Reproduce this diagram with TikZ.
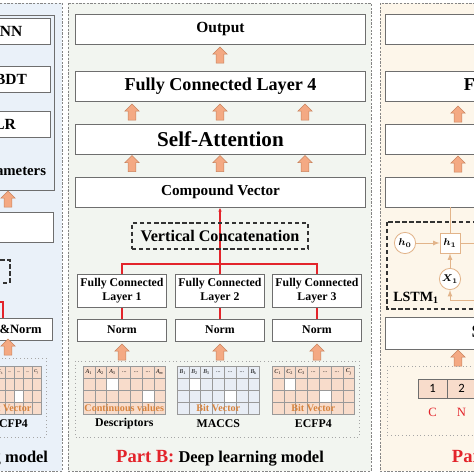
\documentclass[tikz,border=0pt]{standalone}
\usepackage{amsmath,amssymb}
\usepackage{fontspec}
\setmainfont{Liberation Serif}
\newfontfamily\tokfont{Carlito}
\usepackage{xcolor}
\usepackage{tikz}
\usetikzlibrary{arrows.meta}
\usetikzlibrary{arrows,positioning,shapes,shapes.arrows,calc}

\definecolor{panelA}{HTML}{EAF1F9}
\definecolor{panelB}{HTML}{F2F5F0}
\definecolor{panelC}{HTML}{FDF6EA}
\definecolor{panelline}{HTML}{858585}
\definecolor{boxline}{HTML}{6E6E6E}
\definecolor{arrowfill}{HTML}{F4A983}
\definecolor{arrowline}{HTML}{C9825C}
\definecolor{redline}{HTML}{E3242B}
\definecolor{peach}{HTML}{F8DCCB}
\definecolor{bluegrid}{HTML}{E8EDF5}
\definecolor{orangetext}{HTML}{D7843F}
\definecolor{thinline}{HTML}{E2B48A}

\tikzset{
	>=latex,
	panel/.style={draw=panelline, line width=0.7pt, dash pattern=on 1.6pt off 1pt},
	layer/.style={
			draw=boxline,
			fill=white,
			line width=0.7pt,
			inner sep=0pt,
			minimum width=7.225cm,
			minimum height=0.75cm,
		},
	layerA/.style={layer, minimum width=2.25cm, minimum height=0.65cm,
			font=\fontsize{11}{13}\selectfont\bfseries},
	smalllayer/.style={layer, minimum width=2.2cm, minimum height=0.55cm, align=center,
			font=\fontsize{8.4}{9.6}\selectfont\bfseries},
	dashbox/.style={draw=black!80, line width=0.8pt, dash pattern=on 3pt off 2pt, inner sep=0pt},
	dotbox/.style={draw=black!35, line width=0.6pt, dotted},
	uparrow/.style={
			single arrow,
			shape border rotate=90,
			draw=arrowline,
			fill=arrowfill,
			line width=0.4pt,
			inner sep=2.6pt,
			minimum height=0.4cm,
			minimum width=0.33cm,
			single arrow head extend=2.3pt,
		},
	redwire/.style={draw=redline, line width=0.9pt},
	cell/.style={draw=black!40, line width=0.4pt},
	celllbl/.style={inner sep=0pt},
	bitlbl/.style={text=orangetext, font=\fontsize{7.2}{8}\selectfont\bfseries, inner sep=0pt},
	caplbl/.style={font=\fontsize{8.4}{9.6}\selectfont\bfseries, inner sep=0pt},
	hcirc/.style={circle, draw=thinline, fill=white, line width=0.6pt, minimum size=0.53cm, inner sep=0pt,
			font=\fontsize{7}{8}\selectfont},
	hsq/.style={rectangle, draw=thinline, fill=white, line width=0.6pt, minimum size=0.5cm, inner sep=0pt,
			font=\fontsize{7}{8}\selectfont},
	thinwire/.style={draw=thinline, line width=0.6pt},
	token/.style={draw=boxline, fill=peach, line width=0.5pt, minimum width=0.725cm, minimum height=0.475cm,
			inner sep=0pt, font=\tokfont\fontsize{9}{10}\selectfont},
}

\begin{document}
\begin{tikzpicture}[x=0.025cm,y=-0.025cm]
	\useasboundingbox (0,0) rectangle (474,474);
	\clip (0,0) rectangle (474,474);

	% panels
	\draw[panel, fill=panelA] (-200,3) rectangle (62,471);
	\draw[panel, fill=panelB] (68,3) rectangle (371,471);
	\draw[panel, fill=panelC] (380,3) rectangle (700,471);

	% Part A: machine learning
	\draw[draw=boxline, line width=0.7pt] (-120,15) rectangle (54,190);
	\node[layerA] (knn) at (5,31.5) {KNN};
	\node[layerA] (gbdt) at (5,79.5) {GBDT};
	\node[layerA] (lr) at (5,124) {LR};
	\node[anchor=east, font=\fontsize{10.5}{12}\selectfont\bfseries] (hyper) at (51,172) {Hyperparameters};
	\node[uparrow] (arA1) at (8,201) {};
	\node[layerA, minimum width=2.4cm, minimum height=0.75cm] (embA) at (5,227) {};
	\node[dashbox, minimum width=1.75cm, minimum height=0.575cm] (catA) at (-25,271.5) {};
	\node[smalllayer, minimum width=2.15cm, font=\fontsize{9}{10}\selectfont\bfseries] (addnorm) at (9,329) {Add\&Norm};
	\coordinate (redAend) at (-80,302);
	\coordinate (redAcorner) at (3,302);
	\draw[redwire] (redAend) -- (redAcorner) -- (redAcorner|-addnorm.north);
	\node[uparrow] (arA2) at (8,349) {};
	\draw[dotbox] (-100,358) rectangle (46,437);
	\node[anchor=east, font=\fontsize{11.7}{14}\selectfont\bfseries] (partA) at (53,458)
	{{\color{redline}\fontsize{13.2}{15}\selectfont Part A:} Machine learning model};

	% Part B: deep learning
	\node[layer, font=\fontsize{11}{13}\selectfont\bfseries] (out) at (220.5,29) {Output};
	\node[layer, font=\fontsize{12.9}{15}\selectfont\bfseries] (fc4) at (220.5,86.5) {Fully Connected Layer 4};
	\node[layer, font=\fontsize{15}{17}\selectfont\bfseries] (sa) at (220.5,139.5) {Self-Attention};
	\node[layer, font=\fontsize{10.8}{13}\selectfont\bfseries] (cv) at (220.5,192) {Compound Vector};

	\node[uparrow] (arB0) at (220,57) {};
	\foreach \ax [count=\i] in {132,220,305}{
			\node[uparrow] (arB1\i) at (\ax,114) {};
			\node[uparrow] (arB2\i) at (\ax,165.5) {};
		}

	\node[smalllayer, minimum height=0.825cm] (fc1) at (122,290.5) {Fully Connected\\Layer 1};
	\node[smalllayer, minimum height=0.825cm] (fc2) at (220,290.5) {Fully Connected\\Layer 2};
	\node[smalllayer, minimum height=0.825cm] (fc3) at (317,290.5) {Fully Connected\\Layer 3};
	\node[smalllayer] (n1) at (122,330) {Norm};
	\node[smalllayer] (n2) at (220,330) {Norm};
	\node[smalllayer] (n3) at (317,330) {Norm};

	\coordinate (bus) at (220,264);
	\draw[redwire] (n1) -- (fc1);
	\draw[redwire] (n2) -- (fc2);
	\draw[redwire] (n3) -- (fc3);
	\draw[redwire] (fc1.north) |- (bus) -| (fc3.north);
	\draw[redwire, -{Latex[length=3pt,width=2.6pt]}] (fc2.north) -- (fc2.north|-cv.south);
	\node[dashbox, minimum width=4.4cm, minimum height=0.65cm, font=\fontsize{11.5}{13}\selectfont\bfseries] (vc) at (220,236) {Vertical Concatenation};

	\node[uparrow] (arN1) at (122,354) {};
	\node[uparrow] (arN2) at (220,354) {};
	\node[uparrow] (arN3) at (317,354) {};
	\draw[dotbox] (75,361) rectangle (359,437);

	% feature grids
	\foreach \gx/\gw/\gc/\gn/\gs/\wa/\wb/\gl/\gb/\gid in {
			83/11.8/peach/A/m/3/6/Descriptors/Continuous values/desc,
			177/11.8/bluegrid/B/k/2/5/MACCS/Bit Vector/maccs,
			272/11.8/peach/C/j/2/5/ECFP4/Bit Vector/ecfpb,
			-22/9/peach/C/j/2/5/ECFP4/Bit Vector/ecfpa}{
			\pgfmathsetmacro\fs{0.36*\gw}
			\foreach \r in {1,...,4}{
					\foreach \c in {1,...,7}{
							\pgfmathtruncatemacro\iswhite{or(and(\r==2,\c==\wa),and(\r==3,\c==\wb))}
							\ifnum\iswhite=1 \def\cellcol{white}\else\edef\cellcol{\gc}\fi
							\draw[cell, fill=\cellcol] (\gx+\c*\gw-\gw,354+\r*12) rectangle ++(\gw,12);
						}
				}
			\foreach \c/\hl in {1/{\textit{\gn}\textsubscript{1}},2/{\textit{\gn}\textsubscript{2}},
					3/{\textit{\gn}\textsubscript{3}},4/{...},5/{...},6/{...},7/{\textit{\gn}\textsubscript{\textit{\gs}}}}
			\node[celllbl, font=\fontsize{\fs}{\fs}\selectfont] (\gid-h\c) at (\gx+\c*\gw-0.5*\gw,372) {\hl};
			\node[bitlbl] (\gid-bit) at (\gx+3.5*\gw,408) {\gb};
			\node[caplbl] (\gid-cap) at (\gx+3.5*\gw,424) {\gl};
		}

	\node[font=\fontsize{11.7}{14}\selectfont\bfseries] (partB) at (220,458)
	{{\color{redline}\fontsize{13.2}{15}\selectfont Part B:} Deep learning model};

	% Part C: sequence branch
	\node[layer, minimum width=8.35cm] (c1) at (553,29) {};
	\node[layer, minimum width=8.35cm, font=\fontsize{12.9}{15}\selectfont\bfseries] (c2) at (553,86.5) {Fully Connected Layer};
	\node[layer, minimum width=8.35cm] (c3) at (553,139.5) {};
	\node[layer, minimum width=8.35cm] (c4) at (553,192) {};
	\node[uparrow] (arC1) at (458,116) {};
	\node[uparrow] (arC2) at (458,166) {};

	\draw[dashbox] (387,222) rectangle (700,309);
	\node[hcirc] (h0) at (405,243) {$\boldsymbol{h_0}$};
	\node[hsq] (h1) at (450,243) {$\boldsymbol{h_1}$};
	\node[hcirc] (x1) at (450,279) {$\boldsymbol{X_1}$};
	\coordinate (hout) at (520,243);
	\coordinate (xin) at (520,300);
	\draw[thinwire, ->] (h0) -- (h1);
	\draw[thinwire] (h1) -- (hout);
	\draw[thinwire, ->] (x1) -- (h1);
	\draw[thinwire, ->] (xin) -| (x1);
	\draw[thinwire] (h1.north) -- (h1.north|-c4.south);
	\node[font=\fontsize{10}{12}\selectfont\bfseries] (lstm) at (416,298) {LSTM$_{\mathbf{1}}$};

	\node[layer, minimum width=8.35cm, minimum height=0.8cm, font=\fontsize{12.9}{15}\selectfont\bfseries] (emb) at (553,333) {SMILES Embedding};
	\node[uparrow] (arC3) at (458,360) {};
	\draw[dotbox] (387,366) rectangle (700,435);
	\node[token] (t1) at (432.5,388.5) {1};
	\node[token] (t2) at (461.5,388.5) {2};
	\node[text=redline, font=\fontsize{9}{10}\selectfont] (tc) at (432.5,412) {C};
	\node[text=redline, font=\fontsize{9}{10}\selectfont] (tn) at (461.5,412) {N};
	\node[anchor=west, text=redline, font=\fontsize{13.2}{15}\selectfont\bfseries] (partC) at (447,456) {Part C:};
\end{tikzpicture}
\end{document}
